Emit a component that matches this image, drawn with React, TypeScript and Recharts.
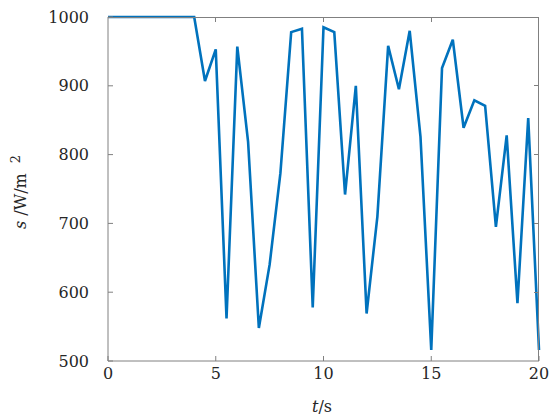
import React from 'react';
import { LineChart, Line, XAxis, YAxis } from 'recharts';

const times = [0, 0.5, 1, 1.5, 2, 2.5, 3, 3.5, 4, 4.5, 5, 5.5, 6, 6.5, 7, 7.5, 8, 8.5, 9, 9.5, 10,
  10.5, 11, 11.5, 12, 12.5, 13, 13.5, 14, 14.5, 15, 15.5, 16, 16.5, 17, 17.5, 18, 18.5, 19, 19.5, 20];
const irradiance = [1000, 1000, 1000, 1000, 1000, 1000, 1000, 1000, 1000, 907, 953, 562, 957, 819, 548, 640, 773, 978, 983, 578, 985,
  978, 742, 900, 569, 710, 958, 895, 980, 826, 516, 926, 967, 839, 879, 871, 695, 828, 584, 853, 516];
const xTicks = [0, 5, 10, 15, 20];
const yTicks = [500, 600, 700, 800, 900, 1000];

const data = times.map((t, i) => ({ t, s: irradiance[i] }));

const W = 550;
const H = 416;
const M = { top: 17, right: 11, left: 108, bottom: 55 };
const plotW = W - M.left - M.right;
const plotH = H - M.top - M.bottom;

const axisColor = '#808080';
const textColor = '#262626';
const font = "'DejaVu Serif', serif";
const tickStyle = { fill: textColor, fontSize: 16, fontFamily: font };

// top/right box edges with inward ticks (MATLAB style frame)
const Frame = () => {
  const xPos = (v: number) => M.left + ((v - xTicks[0]) / (xTicks[xTicks.length - 1] - xTicks[0])) * plotW;
  const yPos = (v: number) => M.top + plotH - ((v - yTicks[0]) / (yTicks[yTicks.length - 1] - yTicks[0])) * plotH;
  const right = M.left + plotW;
  return (
    <svg width={W} height={H} style={{ position: 'absolute', left: 0, top: 0, pointerEvents: 'none' }}>
      <g stroke={axisColor} strokeWidth={1} shapeRendering="crispEdges">
        <line x1={M.left} y1={M.top + 0.5} x2={right} y2={M.top + 0.5} />
        <line x1={right - 0.5} y1={M.top} x2={right - 0.5} y2={M.top + plotH} />
        {xTicks.slice(1, -1).map((v) => (
          <line key={`tx${v}`} x1={xPos(v)} y1={M.top} x2={xPos(v)} y2={M.top + 5} />
        ))}
        {yTicks.slice(1, -1).map((v) => (
          <line key={`ty${v}`} x1={right} y1={yPos(v)} x2={right - 5} y2={yPos(v)} />
        ))}
      </g>
    </svg>
  );
};

const YLabel = () => (
  <text
    transform="translate(26, 192) rotate(-90)"
    textAnchor="middle"
    fontFamily={font}
    fontSize={16}
    fill={textColor}
  >
    <tspan fontStyle="italic">s</tspan>
    <tspan> /W/m</tspan>
    <tspan dx={10} dy={-6} fontSize={13}>2</tspan>
  </text>
);

const XLabel = () => (
  <text x={322} y={412} textAnchor="middle" fontFamily={font} fontSize={16} fill={textColor}>
    <tspan fontStyle="italic">t</tspan>
    <tspan>/s</tspan>
  </text>
);

export default function App() {
  return (
    <div style={{ position: 'absolute', left: 0, top: 0, width: W, height: H, background: '#fff' }}>
      <LineChart width={W} height={H} data={data} margin={{ top: M.top, right: M.right, left: 0, bottom: 0 }}>
        <XAxis
          dataKey="t"
          type="number"
          domain={[0, 20]}
          ticks={xTicks}
          height={M.bottom}
          stroke={axisColor}
          tickSize={-5}
          tickMargin={12}
          tick={tickStyle}
        />
        <YAxis
          type="number"
          domain={[500, 1000]}
          ticks={yTicks}
          width={M.left}
          stroke={axisColor}
          tickSize={-5}
          tickMargin={24}
          tick={tickStyle}
        />
        <Line
          type="linear"
          dataKey="s"
          stroke="#0072BD"
          strokeWidth={2.6}
          dot={false}
          isAnimationActive={false}
        />
        <YLabel />
        <XLabel />
      </LineChart>
      <Frame />
    </div>
  );
}
